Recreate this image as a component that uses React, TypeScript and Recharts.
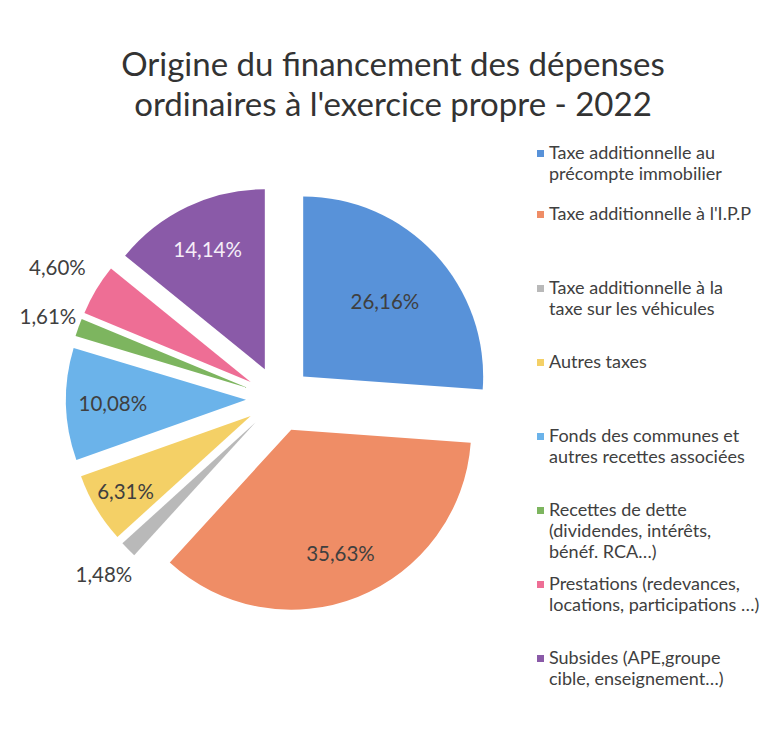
import React from 'react';
import { PieChart, Pie, Cell, Sector, Legend } from 'recharts';

const TITLE = ["Origine du financement des dépenses", "ordinaires à l'exercice propre - 2022"];

const CATEGORIES = [
  'Taxe additionnelle au\nprécompte immobilier',
  "Taxe additionnelle à l'I.P.P",
  'Taxe additionnelle à la\ntaxe sur les véhicules',
  'Autres taxes',
  'Fonds des communes et\nautres recettes associées',
  'Recettes de dette\n(dividendes, intérêts,\nbénéf. RCA…)',
  'Prestations (redevances,\nlocations, participations …)',
  'Subsides (APE,groupe\ncible, enseignement…)',
];

const SHARES = [26.16, 35.63, 1.48, 6.31, 10.08, 1.61, 4.6, 14.14];

const COLORS = ['#5892d9', '#ef8d66', '#b9b9b9', '#f4d066', '#6bb3ea', '#7db55f', '#ee6e95', '#8a5aa8'];

// where excel put each data label, as a fraction of the radius from the slice tip
const LABEL_RADIUS = [0.62, 0.74, 1.19, 0.81, 0.74, 1.18, 1.25, 0.74];

const data = CATEGORIES.map((name, i) => ({ name, value: SHARES[i], fill: COLORS[i] }));

const RAD = Math.PI / 180;
const EXPLODE = 33;
const FONT = 'Lato, "Open Sans", sans-serif';

const fmt = (v: number) => v.toFixed(2).replace('.', ',') + '%';

// push each slice out along its mid angle
const ExplodedSector = (props: any) => {
  const { cx, cy, midAngle } = props;
  const dx = EXPLODE * Math.cos(-midAngle * RAD);
  const dy = EXPLODE * Math.sin(-midAngle * RAD);
  return <Sector {...props} cx={cx + dx} cy={cy + dy} stroke="none" />;
};

const renderLabel = (props: any) => {
  const { cx, cy, midAngle, outerRadius, value, index } = props;
  const r = EXPLODE + outerRadius * LABEL_RADIUS[index];
  const x = cx + r * Math.cos(-midAngle * RAD);
  const y = cy + r * Math.sin(-midAngle * RAD);
  return (
    <text
      x={x}
      y={y}
      textAnchor="middle"
      dominantBaseline="central"
      fontFamily={FONT}
      fontSize={20.5}
      fill={index === 7 ? '#f6eef8' : '#3f3f3f'}
    >
      {fmt(value)}
    </text>
  );
};

const renderLegend = () => (
  <div style={{ fontFamily: FONT, fontSize: 18, lineHeight: '21px', color: '#404040' }}>
    {CATEGORIES.map((name, i) => (
      <div
        key={name}
        style={{
          height: i === 0 ? 61 : 74,
          marginTop: i === 0 ? 13 : 0,
          display: 'flex',
          alignItems: 'flex-start',
        }}
      >
        <span
          style={{
            width: 7,
            height: 7,
            marginTop: 8,
            marginRight: 5,
            background: COLORS[i],
            flex: 'none',
          }}
        />
        <span style={{ whiteSpace: 'pre-line' }}>{name}</span>
      </div>
    ))}
  </div>
);

export default function App() {
  return (
    <div style={{ position: 'relative', width: 763, height: 741, background: '#fff', overflow: 'hidden' }}>
      <div
        style={{
          position: 'absolute',
          left: 0,
          top: 35,
          width: 770,
          textAlign: 'center',
          fontFamily: FONT,
          fontSize: 33,
          lineHeight: '40px',
          color: '#333',
          zIndex: 1,
        }}
      >
        {TITLE[0]}
        <br />
        {TITLE[1]}
      </div>
      <PieChart width={763} height={741}>
        <Pie
          data={data}
          dataKey="value"
          nameKey="name"
          cx={266}
          cy={386}
          outerRadius={180}
          startAngle={90}
          endAngle={-270}
          shape={ExplodedSector}
          label={renderLabel}
          labelLine={false}
          isAnimationActive={false}
        >
          {data.map((d, i) => (
            <Cell key={`cell-${i}`} fill={d.fill} />
          ))}
        </Pie>
        <Legend
          content={renderLegend}
          wrapperStyle={{ position: 'absolute', left: 529, top: 121, width: 240 }}
        />
      </PieChart>
    </div>
  );
}
